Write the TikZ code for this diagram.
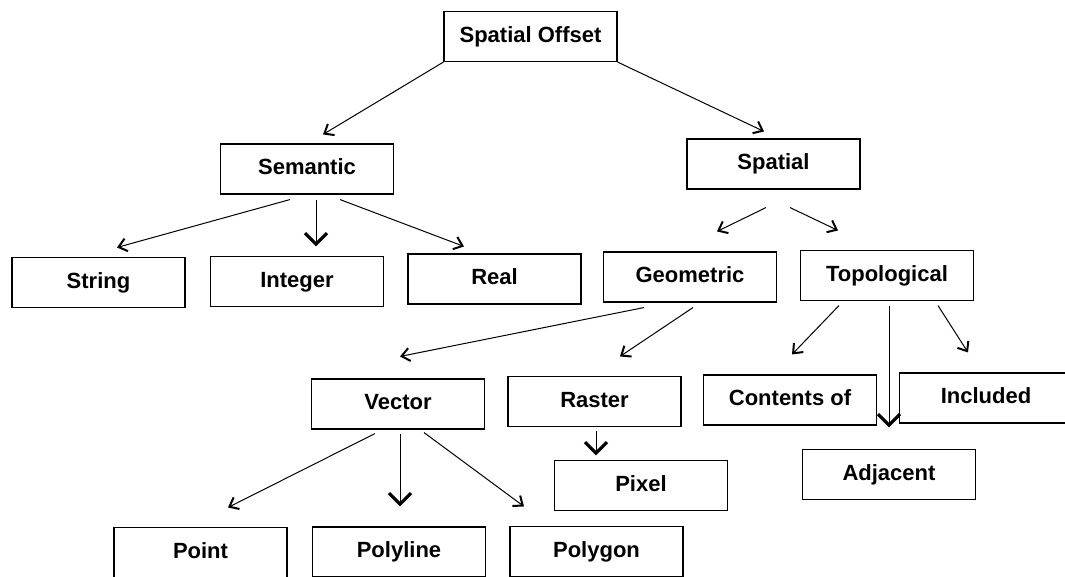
\documentclass[tikz,border=0pt]{standalone}
\usepackage{fontspec}
\setmainfont{Liberation Sans}
\usepackage{tikz}
\usetikzlibrary{arrows.meta,calc}

\begin{document}
\begin{tikzpicture}[x=1pt, y=-1pt, font=\bfseries\fontsize{22}{26}\selectfont,
    box/.style={draw, line width=1.1pt, minimum width=173, minimum height=50, inner sep=0pt,
      text height=16pt, text depth=5pt},
    arr/.style={line width=1pt, -{Straight Barb[length=8pt, width=13pt, line width=2pt 0]}},
    bigarr/.style={line width=1pt, -{Straight Barb[length=11pt, width=22pt, line width=3.2pt 0]}}]
    \useasboundingbox (0,0) rectangle (1065,576);

    % Root
    \node[box] (root) at (530.5, 36.5) {Spatial Offset};

    % Level 1
    \node[box] (sem) at (307, 169) {Semantic};
    \node[box] (spa) at (773.5, 164) {Spatial};

    % Level 2
    \node[box] (str) at (98.5, 282.5) {String};
    \node[box] (int) at (297, 281.5) {Integer};
    \node[box] (real) at (494.5, 279) {Real};
    \node[box] (geo) at (690, 277) {Geometric};
    \node[box] (topo) at (887, 275.5) {Topological};

    % Level 3
    \node[box] (vec) at (398, 404) {Vector};
    \node[box] (ras) at (594.5, 401.5) {Raster};
    \node[box] (cont) at (790, 400) {Contents of};
    \node[box] (incl) at (986, 398) {Included};
    \node[box] (pix) at (641, 485.5) {Pixel};
    \node[box] (adj) at (889, 474.5) {Adjacent};

    % Level 4
    \node[box] (point) at (200.5, 552.5) {Point};
    \node[box] (pline) at (399, 552) {Polyline};
    \node[box] (pgon) at (596.5, 551.5) {Polygon};

    % Arrows
    \draw[arr] (root.south west) -- ($(sem.north)+(16,-9)$);
    \draw[arr] (root.south east) -- ($(spa.north)+(-9.5,-7)$);

    \draw[arr] ($(sem.south)+(-17,5)$) -- ($(str.north)+(18.5,-9.5)$);
    \draw[bigarr] ($(sem.south)+(9,5)$) -- ($(int.north)+(19,-9.5)$);
    \draw[arr] ($(sem.south)+(33,5)$) -- ($(real.north)+(-30.5,-7)$);

    \draw[arr] ($(spa.south)+(-7.5,18)$) -- ($(geo.north)+(27,-20)$);
    \draw[arr] ($(spa.south)+(16.5,18)$) -- ($(topo.north)+(-49,-19.5)$);

    \draw[arr] ($(geo.south)+(-46,5)$) -- ($(vec.north)+(2,-22)$);
    \draw[arr] ($(geo.south)+(3,5)$) -- ($(ras.north)+(25.5,-19.5)$);

    \draw[arr] ($(topo.south)+(-48,4.5)$) -- ($(cont.north)+(2,-20)$);
    \draw[bigarr] ($(topo.south)+(2,4.5)$) -- ($(adj.north)+(0,-21.5)$);
    \draw[arr] ($(topo.south)+(51,4.5)$) -- ($(incl.north)+(-18,-20)$);

    \draw[bigarr] ($(ras.south)+(1.5,3.5)$) -- ($(pix.north)+(-45,-4.5)$);

    \draw[arr] ($(vec.south)+(-23,4)$) -- ($(point.north)+(27.5,-19.5)$);
    \draw[bigarr] ($(vec.south)+(2,4)$) -- ($(pline.north)+(1,-20)$);
    \draw[arr] ($(vec.south)+(26,3)$) -- ($(pgon.north)+(-72.5,-19.5)$);
\end{tikzpicture}
\end{document}
